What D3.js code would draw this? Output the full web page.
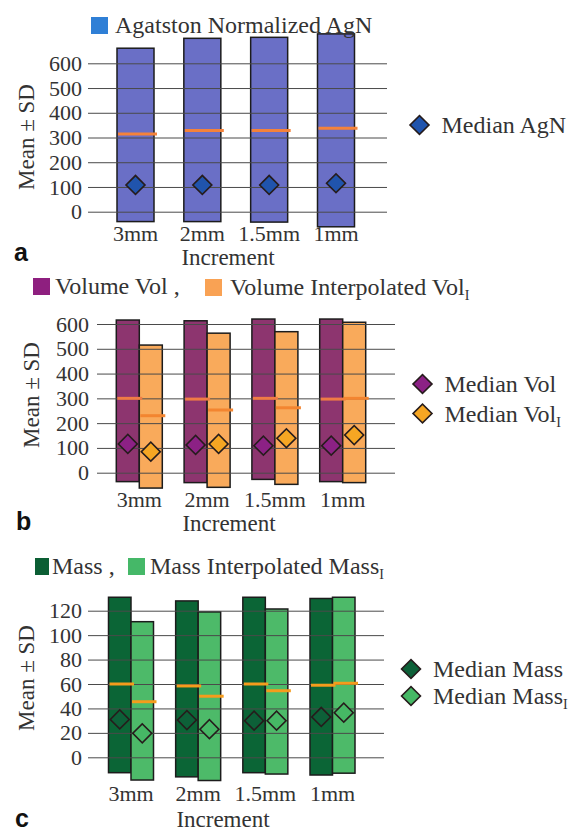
<!DOCTYPE html>
<html>
<head>
<meta charset="utf-8">
<script src="https://cdn.jsdelivr.net/npm/d3@7"></script>
<style>
  body { margin: 0; background: #fff; }
  svg text { font-family: "Liberation Serif", "Times New Roman", serif; fill: #333; }
</style>
</head>
<body>
<svg id="chart"></svg>
<script>
var width = 578;
var height = 833;

var increments = ['3mm', '2mm', '1.5mm', '1mm'];

// a: Agatston normalized (mean, mean+SD, mean-SD, median)
var agnTicks = [0, 100, 200, 300, 400, 500, 600];
var agnMean = [314, 328, 328, 337];
var agnUpper = [661, 701, 705, 719];
var agnLower = [-40, -40, -42, -61];
var agnMedian = [108, 108, 108, 115];

// b: volume and interpolated volume
var volTicks = [0, 100, 200, 300, 400, 500, 600];
var volMean = [300, 297, 300, 297];
var volUpper = [616, 613, 620, 620];
var volLower = [-36, -40, -27, -36];
var volMedian = [116, 112, 109, 109];
var volIMean = [230, 253, 262, 300];
var volIUpper = [515, 563, 569, 607];
var volILower = [-62, -59, -47, -40];
var volIMedian = [85, 116, 139, 152];

// c: mass and interpolated mass
var massTicks = [0, 20, 40, 60, 80, 100, 120];
var massMean = [60, 58.4, 60, 59];
var massUpper = [131, 128, 131, 130];
var massLower = [-12.6, -16, -12.6, -14.5];
var massMedian = [31, 30.5, 30, 33];
var massIMean = [45.5, 50, 54.5, 60.6];
var massIUpper = [111, 119, 121.4, 131];
var massILower = [-18.6, -19, -13.7, -13];
var massIMedian = [19.6, 23, 30, 36.5];

var svg = d3.select('#chart')
  .attr('width', width)
  .attr('height', height);

function label(g, x, y, main, sub, size){
  var t = g.append('text')
    .attr('x', x)
    .attr('y', y)
    .attr('font-size', size || 24)
    .text(main);
  if(sub){
    t.append('tspan')
      .attr('dy', 5)
      .attr('font-size', 14)
      .text(sub);
  }
  return t;
}

function diamond(g, cx, cy, fill){
  g.append('path')
    .attr('d', d3.symbol(d3.symbolSquare, 180)())
    .attr('transform', `translate(${cx},${cy}) rotate(45)`)
    .attr('fill', fill)
    .attr('stroke', '#261c1c')
    .attr('stroke-width', 1.6);
}

function drawPanel(p){
  var g = svg.append('g');

  var yScale = d3.scaleLinear()
    .domain(p.domain)
    .range(p.yRange);

  var xScale = d3.scalePoint()
    .domain(increments)
    .range(p.xRange);

  var sub = d3.scaleBand()
    .domain(p.series.map(s => s.key))
    .range([-p.groupWidth / 2, p.groupWidth / 2]);

  // SD bars
  p.series.forEach(function(s){
    g.selectAll(null)
      .data(increments)
      .enter()
      .append('rect')
        .attr('x', d => xScale(d) + sub(s.key))
        .attr('y', (d, i) => yScale(s.upper[i]))
        .attr('width', sub.bandwidth())
        .attr('height', (d, i) => yScale(s.lower[i]) - yScale(s.upper[i]))
        .attr('fill', s.fill)
        .attr('stroke', '#1c1c1c')
        .attr('stroke-width', 1.5);
  });

  // grid + tick labels
  g.append('g')
    .attr('transform', `translate(${p.gridX[0]}, 0)`)
    .call(d3.axisLeft(yScale)
      .tickValues(p.ticks)
      .tickSize(-(p.gridX[1] - p.gridX[0]))
      .tickSizeOuter(0)
      .tickPadding(p.tickPad))
    .call(a => a.select('.domain').remove())
    .call(a => a.selectAll('line').attr('stroke', '#4a4a4a').attr('stroke-width', 1))
    .call(a => a.selectAll('text')
      .attr('font-size', 22)
      .attr('font-family', '"Liberation Serif", serif')
      .style('fill', '#333'));

  // mean lines and medians
  p.series.forEach(function(s){
    g.selectAll(null)
      .data(increments)
      .enter()
      .append('line')
        .attr('x1', d => xScale(d) + sub(s.key) + 1)
        .attr('x2', d => xScale(d) + sub(s.key) + sub.bandwidth() + 3)
        .attr('y1', (d, i) => yScale(s.mean[i]))
        .attr('y2', (d, i) => yScale(s.mean[i]))
        .attr('stroke', s.meanColor)
        .attr('stroke-width', 3);

    increments.forEach(function(d, i){
      diamond(g, xScale(d) + sub(s.key) + sub.bandwidth() / 2, yScale(s.median[i]), s.dot);
    });
  });

  // x labels
  g.selectAll(null)
    .data(increments)
    .enter()
    .append('text')
      .attr('x', d => xScale(d))
      .attr('y', p.xLabelY)
      .attr('font-size', 22)
      .style('text-anchor', 'middle')
      .text(d => d);

  g.append('text')
    .attr('x', p.incX)
    .attr('y', p.incY)
    .attr('font-size', 23)
    .style('text-anchor', 'middle')
    .text('Increment');

  g.append('text')
    .attr('transform', `translate(${p.yTitle[0]}, ${p.yTitle[1]}) rotate(-90)`)
    .attr('dy', '0.35em')
    .attr('font-size', 23)
    .style('text-anchor', 'middle')
    .text('Mean ± SD');

  g.append('text')
    .attr('x', p.letter[0])
    .attr('y', p.letter[1])
    .attr('font-size', 25)
    .attr('font-weight', 'bold')
    .style('font-family', '"Liberation Sans", Arial, sans-serif')
    .style('fill', '#111')
    .text(p.name);

  // top legend
  p.series.forEach(function(s){
    g.append('rect')
      .attr('x', s.legend[0])
      .attr('y', s.legend[1])
      .attr('width', s.swatchW || 17)
      .attr('height', 17)
      .attr('fill', s.swatch);
    label(g, s.legend[0] + (s.legendGap || 22), s.legend[1] + 16, s.text, s.textSub);
  });

  // median legend
  p.series.forEach(function(s, i){
    var cy = p.medLegend[1] + i * p.medLegend[2];
    diamond(g, p.medLegend[0], cy, s.dot);
    label(g, p.medLegend[0] + 22, cy + 8, s.medText, s.medSub);
  });
}

drawPanel({
  name: 'a',
  domain: [0, 600], yRange: [211.7, 63.3],
  xRange: [135.5, 336], groupWidth: 37,
  ticks: agnTicks, gridX: [88, 387], tickPad: 6,
  xLabelY: 241, incX: 228, incY: 265, yTitle: [26, 137], letter: [14, 261],
  medLegend: [419.5, 125, 0],
  series: [
    {key: 'agn', mean: agnMean, upper: agnUpper, lower: agnLower, median: agnMedian,
     fill: '#6a6fc6', meanColor: '#f5823a', dot: '#2054ad', swatch: '#2f7fd6',
     legend: [91, 17], legendGap: 24, text: 'Agatston Normalized AgN', medText: 'Median AgN'}
  ]
});

drawPanel({
  name: 'b',
  domain: [0, 600], yRange: [472.7, 324],
  xRange: [139.3, 342.7], groupWidth: 46,
  ticks: volTicks, gridX: [97, 395], tickPad: 8,
  xLabelY: 507, incX: 229, incY: 531, yTitle: [31, 395], letter: [16, 530],
  medLegend: [422.5, 384, 29.5],
  series: [
    {key: 'vol', mean: volMean, upper: volUpper, lower: volLower, median: volMedian,
     fill: '#8d356f', meanColor: '#ef7c45', dot: '#8c2185', swatch: '#8e1f7f',
     legend: [33, 278], text: 'Volume Vol ,', medText: 'Median Vol'},
    {key: 'volI', mean: volIMean, upper: volIUpper, lower: volILower, median: volIMedian,
     fill: '#f9aa5b', meanColor: '#f38530', dot: '#f6a623', swatch: '#f9a254',
     legend: [205, 279], legendGap: 25, text: 'Volume Interpolated Vol', textSub: 'I',
     medText: 'Median Vol', medSub: 'I'}
  ]
});

drawPanel({
  name: 'c',
  domain: [0, 120], yRange: [757.3, 610.7],
  xRange: [131, 332.5], groupWidth: 45,
  ticks: massTicks, gridX: [88, 384], tickPad: 6,
  xLabelY: 801, incX: 223, incY: 827, yTitle: [26, 678], letter: [15, 827],
  medLegend: [411, 669, 27],
  series: [
    {key: 'mass', mean: massMean, upper: massUpper, lower: massLower, median: massMedian,
     fill: '#0b6536', meanColor: '#f59c1c', dot: '#0d6038', swatch: '#0b5e34',
     legend: [35, 558], swatchW: 14, legendGap: 17, text: 'Mass ,', medText: 'Median Mass'},
    {key: 'massI', mean: massIMean, upper: massIUpper, lower: massILower, median: massIMedian,
     fill: '#4dba69', meanColor: '#f59c1c', dot: '#46b865', swatch: '#45b868',
     legend: [128, 558], text: 'Mass Interpolated Mass', textSub: 'I',
     medText: 'Median Mass', medSub: 'I'}
  ]
});
</script>
</body>
</html>
